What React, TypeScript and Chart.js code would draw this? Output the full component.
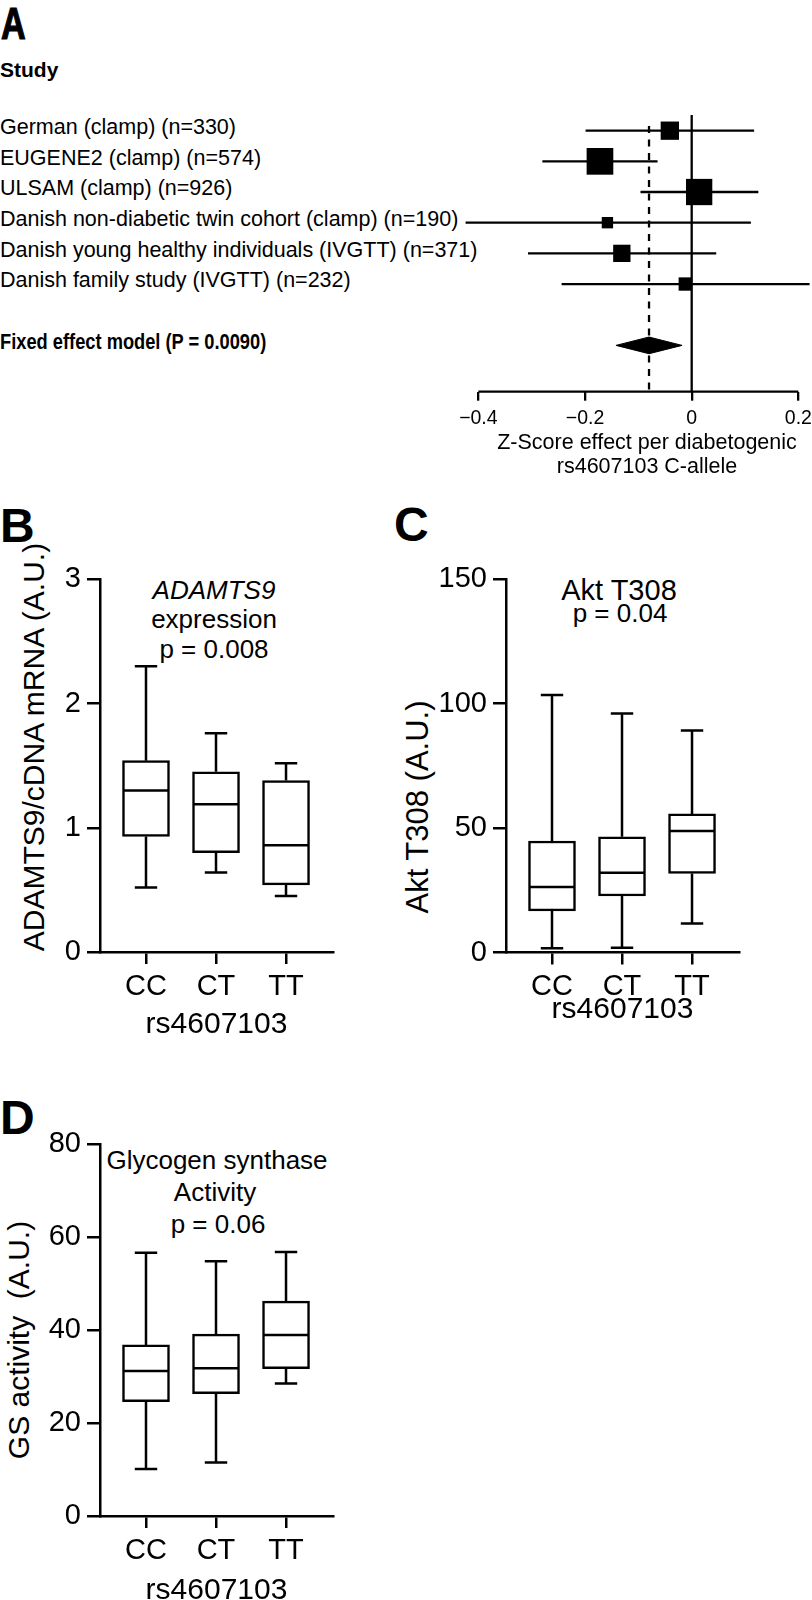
import React, { useEffect, useRef } from "react";
import { Chart, registerables } from "chart.js";
Chart.register(...registerables);

const FONT = '"Liberation Sans", Arial, Helvetica, sans-serif';

// ---------------- Panel A: forest plot data ----------------
const studyLabels = [
  "German (clamp) (n=330)",
  "EUGENE2 (clamp) (n=574)",
  "ULSAM (clamp) (n=926)",
  "Danish non-diabetic twin cohort (clamp) (n=190)",
  "Danish young healthy individuals (IVGTT) (n=371)",
  "Danish family study (IVGTT) (n=232)",
];
const effectEstimates = [-0.041, -0.172, 0.014, -0.158, -0.131, -0.012];
const ciLower = [-0.199, -0.28, -0.096, -0.424, -0.307, -0.244];
const ciUpper = [0.117, -0.064, 0.125, 0.111, 0.046, 0.221];
const studyWeights = [14.3, 30.4, 29.5, 5.5, 12.8, 7.6];
const pooledEffect = [-0.142, -0.08, -0.018]; // lower, estimate, upper
const pooledLabel = "Fixed effect model (P = 0.0090)";
const forestTicks = [-0.4, -0.2, 0, 0.2];
const forestTitle = ["Z-Score effect per diabetogenic", "rs4607103 C-allele"];

// ---------------- Panels B-D: box plot data ----------------
const genotypes = ["CC", "CT", "TT"];
const snpName = "rs4607103";

const adamtsMin = [0.52, 0.64, 0.45];
const adamtsQ1 = [0.93, 0.8, 0.54];
const adamtsMedian = [1.3, 1.19, 0.86];
const adamtsQ3 = [1.54, 1.45, 1.38];
const adamtsMax = [2.3, 1.76, 1.52];
const adamtsTicks = [0, 1, 2, 3];

const aktMin = [1.7, 1.9, 11.7];
const aktQ1 = [16.7, 22.7, 31.8];
const aktMedian = [26.3, 32.1, 48.8];
const aktQ3 = [44.8, 46.5, 55.7];
const aktMax = [103.5, 96.1, 89.2];
const aktTicks = [0, 50, 100, 150];

const gsMin = [10.1, 11.5, 28.5];
const gsQ1 = [24.6, 26.3, 31.7];
const gsMedian = [31.2, 31.8, 38.9];
const gsQ3 = [36.8, 39.1, 46.2];
const gsMax = [56.6, 54.8, 56.8];
const gsTicks = [0, 20, 40, 60, 80];

// ---------------- Forest plot config ----------------
const ROW_TOP = -1;
const POOLED_ROW = 7;
const AXIS_ROW = 8.51;
const LW = 2.3;

function forestConfig(): any {
  const ci: any[] = [];
  effectEstimates.forEach((_, i) => {
    ci.push({ x: ciLower[i], y: i }, { x: ciUpper[i], y: i }, { x: ciUpper[i], y: null });
  });
  const squares = effectEstimates.map((e, i) => ({ x: e, y: i }));
  const radii = studyWeights.map((w) => (4.84 * Math.sqrt(w)) / Math.SQRT2);
  const [pl, pe, pu] = pooledEffect;
  const dh = 0.272;
  const diamond = [
    { x: pl, y: POOLED_ROW },
    { x: pe, y: POOLED_ROW - dh },
    { x: pu, y: POOLED_ROW },
    { x: pe, y: POOLED_ROW + dh },
    { x: pl, y: POOLED_ROW },
  ];
  const line = (data: any[], extra: any = {}) => ({
    type: "scatter",
    showLine: true,
    data,
    borderColor: "#000",
    backgroundColor: "#000",
    borderWidth: LW,
    pointRadius: 0,
    spanGaps: false,
    clip: false,
    fill: false,
    tension: 0,
    ...extra,
  });
  return {
    type: "scatter",
    data: {
      datasets: [
        line([{ x: 0, y: -0.511 }, { x: 0, y: AXIS_ROW }], { order: 3 }),
        line([{ x: pe, y: -0.152 }, { x: pe, y: AXIS_ROW }], { order: 3, borderDash: [7, 6.5] }),
        line([{ x: forestTicks[0], y: AXIS_ROW }, { x: forestTicks[forestTicks.length - 1], y: AXIS_ROW }], { order: 2 }),
        line(ci, { order: 1 }),
        {
          type: "scatter",
          data: squares,
          pointStyle: "rect",
          pointRadius: radii,
          backgroundColor: "#000",
          borderColor: "#000",
          borderWidth: 0,
          clip: false,
          order: 0,
        },
        line(diamond, { order: 0, fill: "shape", borderWidth: 1 }),
      ],
    },
    options: {
      responsive: false,
      animation: false,
      events: [],
      layout: { autoPadding: false, padding: { left: 30, right: 0, top: 0, bottom: 0 } },
      plugins: { legend: { display: false }, tooltip: { enabled: false } },
      scales: {
        x: {
          type: "linear",
          min: -0.4157,
          max: 0.2481,
          afterBuildTicks: (s: any) => {
            s.ticks = forestTicks.map((v) => ({ value: v }));
          },
          afterFit: (s: any) => {
            s.height = 88.3;
            s.paddingLeft = 0;
            s.paddingRight = 0;
          },
          ticks: {
            color: "#000",
            font: { family: FONT, size: 19.5, lineHeight: 1 },
            padding: 8.5,
            maxRotation: 0,
            autoSkip: false,
            callback: (v: number) => (v === 0 ? "0" : v < 0 ? "\u2212" + Math.abs(v).toFixed(1) : v.toFixed(1)),
          },
          grid: { drawOnChartArea: false, drawTicks: true, tickLength: 9, color: "#000", lineWidth: LW },
          border: { display: false },
          title: {
            display: true,
            text: forestTitle,
            color: "#000",
            font: { family: FONT, size: 21.5, lineHeight: 24.5 / 21.5 },
            padding: { top: 0, bottom: 0.25 },
          },
        },
        y: { type: "linear", display: false, reverse: true, min: ROW_TOP, max: AXIS_ROW },
      },
    },
  };
}

// ---------------- Box plot config ----------------
function boxConfig(p: any): any {
  const { mins, q1, med, q3, maxs, ticks, padTop, xHeight, titlePad } = p;
  const cap = 0.16;
  const half = 0.314;
  const whiskers: any[] = [];
  const medians: any[] = [];
  genotypes.forEach((_, k) => {
    const x = k + 1;
    whiskers.push(
      { x, y: q3[k] }, { x, y: maxs[k] }, { x, y: null },
      { x: x - cap, y: maxs[k] }, { x: x + cap, y: maxs[k] }, { x, y: null },
      { x, y: q1[k] }, { x, y: mins[k] }, { x, y: null },
      { x: x - cap, y: mins[k] }, { x: x + cap, y: mins[k] }, { x, y: null }
    );
    medians.push({ x: x - half, y: med[k] }, { x: x + half, y: med[k] }, { x, y: null });
  });
  const lw = 2.5;
  const fontTick = { family: FONT, size: 29, lineHeight: 1 };
  return {
    type: "bar",
    data: {
      datasets: [
        {
          type: "bar",
          data: genotypes.map((_, k) => ({ x: k + 1, y: [q1[k], q3[k]] })),
          backgroundColor: "#fff",
          borderColor: "#000",
          borderWidth: lw,
          borderSkipped: false,
          barThickness: 47,
          grouped: false,
          order: 1,
        },
        {
          type: "line",
          data: whiskers,
          borderColor: "#000",
          borderWidth: lw,
          pointRadius: 0,
          spanGaps: false,
          clip: false,
          order: 2,
        },
        {
          type: "line",
          data: medians,
          borderColor: "#000",
          borderWidth: lw,
          pointRadius: 0,
          spanGaps: false,
          order: 0,
        },
      ],
    },
    options: {
      responsive: false,
      animation: false,
      events: [],
      layout: { autoPadding: false, padding: { left: 0, right: 17, top: padTop, bottom: 0 } },
      plugins: { legend: { display: false }, tooltip: { enabled: false } },
      scales: {
        x: {
          type: "linear",
          offset: false,
          min: 0.343,
          max: 3.671,
          afterBuildTicks: (s: any) => {
            s.ticks = genotypes.map((_, k) => ({ value: k + 1 }));
          },
          afterFit: (s: any) => {
            s.height = xHeight;
            s.paddingLeft = 0;
            s.paddingRight = 0;
          },
          ticks: {
            color: "#000",
            font: fontTick,
            padding: 8,
            maxRotation: 0,
            autoSkip: false,
            callback: (v: number) => genotypes[Math.round(v) - 1] ?? "",
          },
          grid: {
            offset: false,
            drawOnChartArea: false,
            drawTicks: true,
            tickLength: 12,
            color: "#000",
            lineWidth: lw,
          },
          border: { display: true, color: "#000", width: lw },
          title: {
            display: true,
            text: snpName,
            color: "#000",
            font: { family: FONT, size: 30, lineHeight: 1 },
            padding: { top: 0, bottom: titlePad },
          },
        },
        y: {
          type: "linear",
          min: ticks[0],
          max: ticks[ticks.length - 1],
          afterBuildTicks: (s: any) => {
            s.ticks = ticks.map((v: number) => ({ value: v }));
          },
          afterFit: (s: any) => {
            s.width = 100;
            s.paddingTop = 0;
            s.paddingBottom = 0;
          },
          ticks: { color: "#000", font: fontTick, padding: 6 },
          grid: { drawOnChartArea: false, drawTicks: true, tickLength: 13, color: "#000", lineWidth: lw },
          border: { display: true, color: "#000", width: lw },
        },
      },
    },
  };
}

function ChartCanvas({ make, left, top, width, height }: any) {
  const ref = useRef<HTMLCanvasElement | null>(null);
  useEffect(() => {
    const chart = new Chart(ref.current as HTMLCanvasElement, make());
    return () => chart.destroy();
  }, []);
  return (
    <canvas
      ref={ref}
      width={width}
      height={height}
      style={{ position: "absolute", left, top, width, height }}
    />
  );
}

function T({ x, y, s, children, b, i, c, rot, pre, sx, stroke }: any) {
  const style: any = {
    position: "absolute",
    left: x,
    top: y - s / 2,
    fontSize: s,
    lineHeight: s + "px",
    fontFamily: FONT,
    fontWeight: b ? 700 : 400,
    fontStyle: i ? "italic" : "normal",
    whiteSpace: pre ? "pre" : "nowrap",
    color: "#000",
  };
  if (stroke) style.WebkitTextStroke = `${stroke}px #000`;
  if (c) style.transform = "translateX(-50%)";
  if (sx) {
    style.transform = `scaleX(${sx})`;
    style.transformOrigin = "0 50%";
  }
  if (rot) {
    style.top = y;
    style.transform = "translate(-50%, -50%) rotate(-90deg)";
  }
  return <div style={style}>{children}</div>;
}

const ROW0_Y = 130.7;
const ROW_STEP = 30.67;

export default function App() {
  return (
    <div
      style={{
        position: "absolute",
        left: 0,
        top: 0,
        width: 812,
        height: 1600,
        overflow: "hidden",
        background: "#fff",
      }}
    >
      {/* Panel A */}
      <T x={0.5} y={23.5} s={45} b sx={0.76} stroke={1.2}>A</T>
      <T x={0} y={69} s={21} b>Study</T>
      {studyLabels.map((l, i) => (
        <T key={l} x={0} y={ROW0_Y + ROW_STEP * i - 3} s={21.5}>{l}</T>
      ))}
      <T x={0} y={343} s={21.5} b sx={0.85}>{pooledLabel}</T>
      <ChartCanvas make={forestConfig} left={440} top={100} width={384} height={380} />

      {/* Panel B */}
      <T x={0} y={525.7} s={48} b>B</T>
      <T x={33.5} y={747} s={30} rot>ADAMTS9/cDNA mRNA (A.U.)</T>
      <T x={214} y={589.5} s={26} c i>ADAMTS9</T>
      <T x={214} y={619} s={26} c>expression</T>
      <T x={214} y={648.7} s={26} c>p = 0.008</T>
      <ChartCanvas
        make={() =>
          boxConfig({
            mins: adamtsMin, q1: adamtsQ1, med: adamtsMedian, q3: adamtsQ3, maxs: adamtsMax,
            ticks: adamtsTicks, padTop: 39.3, xHeight: 98, titlePad: 10,
          })
        }
        left={0}
        top={540}
        width={350}
        height={510}
      />

      {/* Panel C */}
      <T x={394} y={525} s={48} b>C</T>
      <T x={417} y={807} s={31} rot>Akt T308 (A.U.)</T>
      <T x={619} y={590} s={29} c>Akt T308</T>
      <T x={620} y={613.3} s={26} c>p = 0.04</T>
      <ChartCanvas
        make={() =>
          boxConfig({
            mins: aktMin, q1: aktQ1, med: aktMedian, q3: aktQ3, maxs: aktMax,
            ticks: aktTicks, padTop: 39.3, xHeight: 97.5, titlePad: 25.5,
          })
        }
        left={406}
        top={540}
        width={350}
        height={510}
      />

      {/* Panel D */}
      <T x={0} y={1117.7} s={48} b>D</T>
      <T x={18.5} y={1339.5} s={30} rot pre>{"GS activity  (A.U.)"}</T>
      <T x={217} y={1160} s={26} c>Glycogen synthase</T>
      <T x={215} y={1192} s={26} c>Activity</T>
      <T x={218} y={1223.7} s={26} c>p = 0.06</T>
      <ChartCanvas
        make={() =>
          boxConfig({
            mins: gsMin, q1: gsQ1, med: gsMedian, q3: gsQ3, maxs: gsMax,
            ticks: gsTicks, padTop: 44, xHeight: 94, titlePad: 4,
          })
        }
        left={0}
        top={1100}
        width={350}
        height={510}
      />
    </div>
  );
}
